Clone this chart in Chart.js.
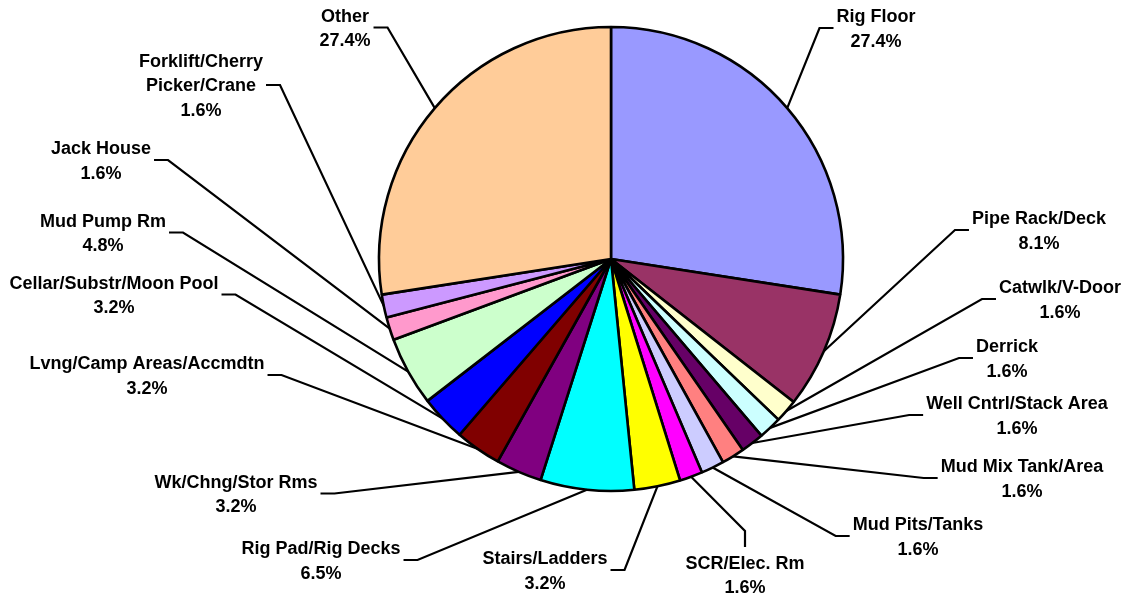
<!DOCTYPE html>
<html>
<head>
<meta charset="utf-8">
<script src="https://cdn.jsdelivr.net/npm/chart.js@4.4.0/dist/chart.umd.min.js"></script>
<style>
  html, body { margin: 0; padding: 0; background: #fff; }
  canvas { display: block; }
</style>
</head>
<body>
<canvas id="pie" width="1124" height="596"></canvas>
<script>
// ── Data ──────────────────────────────────────────────────────────────────────

const CATEGORIES = [
  "Rig Floor", "Pipe Rack/Deck", "Catwlk/V-Door", "Derrick",
  "Well Cntrl/Stack Area", "Mud Mix Tank/Area", "Mud Pits/Tanks", "SCR/Elec. Rm",
  "Stairs/Ladders", "Rig Pad/Rig Decks", "Wk/Chng/Stor Rms", "Lvng/Camp Areas/Accmdtn",
  "Cellar/Substr/Moon Pool", "Mud Pump Rm", "Jack House", "Forklift/Cherry Picker/Crane",
  "Other",
];

const SHARES = [27.4, 8.1, 1.6, 1.6, 1.6, 1.6, 1.6, 1.6, 3.2, 6.5, 3.2, 3.2, 3.2, 4.8, 1.6, 1.6, 27.4];

const COLORS = [
  "#9999FF", "#993366", "#FFFFCC", "#CCFFFF", "#660066", "#FF8080", "#CCCCFF", "#FF00FF",
  "#FFFF00", "#00FFFF", "#800080", "#800000", "#0000FF", "#CCFFCC", "#FF99CC", "#CC99FF",
  "#FFCC99",
];

// ── Label layout (text block centre, offset from pie centre) ─────────────────
// side: R = text right of leader, L = text left of leader, T = text below leader

const LABEL_LAYOUT = [
  { dx: 265,  dy: -231,  side: "R" },
  { dx: 428,  dy: -29,   side: "R" },
  { dx: 449,  dy: 40,    side: "R" },
  { dx: 396,  dy: 99,    side: "R" },
  { dx: 406,  dy: 156,   side: "R" },
  { dx: 411,  dy: 219,   side: "R" },
  { dx: 307,  dy: 277,   side: "R" },
  { dx: 134,  dy: 315.5, side: "T" },
  { dx: -66,  dy: 311,   side: "L" },
  { dx: -290, dy: 301,   side: "L" },
  { dx: -375, dy: 234.5, side: "L" },
  { dx: -464, dy: 116,   side: "L" },
  { dx: -497, dy: 35.5,  side: "L" },
  { dx: -508, dy: -26.5, side: "L" },
  { dx: -510, dy: -99,   side: "L" },
  { dx: -410, dy: -174,  side: "L", wrap: 130 },
  { dx: -266, dy: -231.5, side: "L" },
];

const LABEL_FONT = 'bold 18px "Liberation Sans", Arial, sans-serif';
const LINE_H = 24.5;
const GAP = 3;
const ELBOW = 14;

function wrapText(ctx, text, maxW) {
  if (!maxW) return [text];
  const words = text.split(" ");
  const lines = [];
  let cur = "";
  words.forEach(w => {
    const next = cur ? cur + " " + w : w;
    if (cur && ctx.measureText(next).width > maxW) { lines.push(cur); cur = w; }
    else cur = next;
  });
  if (cur) lines.push(cur);
  return lines;
}

const leaderLabels = {
  id: "leaderLabels",
  afterDatasetsDraw(chart) {
    const ctx = chart.ctx;
    const meta = chart.getDatasetMeta(0);
    ctx.save();
    ctx.font = LABEL_FONT;
    ctx.fillStyle = "#000";
    ctx.strokeStyle = "#000";
    ctx.lineWidth = 2.2;
    ctx.lineJoin = "miter";
    ctx.textAlign = "center";
    ctx.textBaseline = "alphabetic";

    meta.data.forEach((arc, i) => {
      const { x, y, startAngle, endAngle, outerRadius } =
        arc.getProps(["x", "y", "startAngle", "endAngle", "outerRadius"], true);
      const mid = (startAngle + endAngle) / 2;
      const ax = x + Math.cos(mid) * outerRadius;
      const ay = y + Math.sin(mid) * outerRadius;

      const lay = LABEL_LAYOUT[i];
      const lines = wrapText(ctx, CATEGORIES[i], lay.wrap).concat(SHARES[i].toFixed(1) + "%");
      const cx = x + lay.dx, cy = y + lay.dy;
      const blockW = Math.max(...lines.map(l => ctx.measureText(l).width));
      const blockH = lines.length * LINE_H;

      let px, py, ex, ey;
      if (lay.side === "R") {
        px = cx - blockW / 2 - GAP; py = cy; ex = px - ELBOW; ey = py;
      } else if (lay.side === "L") {
        px = cx + blockW / 2 + GAP; py = cy; ex = px + ELBOW; ey = py;
      } else {
        px = cx; py = cy - blockH / 2 - GAP; ex = px; ey = py - ELBOW - 2;
      }
      ctx.beginPath();
      ctx.moveTo(ax, ay);
      ctx.lineTo(ex, ey);
      ctx.lineTo(px, py);
      ctx.stroke();

      lines.forEach((l, k) => {
        const lineMid = cy + (k - (lines.length - 1) / 2) * LINE_H;
        ctx.fillText(l, cx, lineMid + 6.4);
      });
    });
    ctx.restore();
  },
};

const ctx = document.getElementById("pie").getContext("2d");
new Chart(ctx, {
  type: "pie",
  data: {
    labels: CATEGORIES,
    datasets: [{
      data: SHARES,
      backgroundColor: COLORS,
      borderColor: "#000",
      borderWidth: 2.6,
    }],
  },
  options: {
    responsive: false,
    animation: false,
    devicePixelRatio: 1,
    radius: 232,
    layout: { padding: { left: 379, right: 281, top: 27, bottom: 105 } },
    plugins: {
      legend: { display: false },
      tooltip: { enabled: false },
    },
  },
  plugins: [leaderLabels],
});
</script>
</body>
</html>
